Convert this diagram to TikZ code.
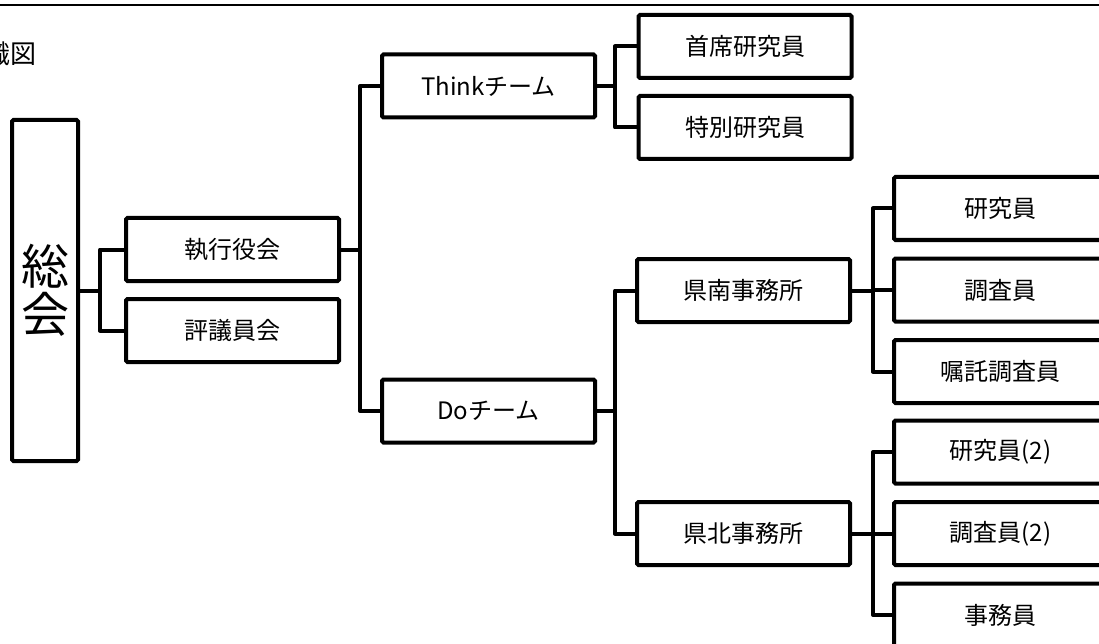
\documentclass[tikz,border=0pt]{standalone}
\usepackage{fontspec}
\newfontfamily\jp{Noto Sans CJK JP}
\begin{document}
\begin{tikzpicture}[x=1pt,y=-1pt,
  box/.style={draw, line width=4pt, rounded corners=1.5pt, minimum width=213pt, minimum height=63pt,
    inner sep=0pt, font=\jp\fontsize{24}{24}\selectfont},
  conn/.style={line width=4pt, line join=round}]
\useasboundingbox (0,0) rectangle (1099,644);
\begin{scope}
\clip (0,0) rectangle (1099,644);
\draw[line width=2pt] (0,4.7) -- (1099,4.7);
\node[anchor=east, inner sep=0pt, font=\jp\fontsize{26}{26}\selectfont] (title) at (36.5,53.5) {織図};
\node[box, minimum width=66pt, minimum height=341pt, align=center,
  font=\jp\fontsize{48}{48}\selectfont] (sokai) at (45,290.5) {総\\会};
\node[box] (exec) at (232.5,249.5) {執行役会};
\node[box] (hyogi) at (232.5,330.5) {評議員会};
\node[box] (think) at (488.5,86) {Thinkチーム};
\node[box] (do) at (488.5,411) {Doチーム};
\node[box] (shuseki) at (745,46.5) {首席研究員};
\node[box] (tokubetsu) at (745,127.5) {特別研究員};
\node[box] (kennan) at (743.5,290.5) {県南事務所};
\node[box] (kenpoku) at (743.5,533.5) {県北事務所};
\node[box] (r1) at (1000.5,208.5) {研究員};
\node[box] (r2) at (1000.5,290) {調査員};
\node[box] (r3) at (1000.5,371.5) {嘱託調査員};
\node[box] (r4) at (1000.5,452) {研究員(2)};
\node[box] (r5) at (1000.5,533.5) {調査員(2)};
\node[box] (r6) at (1000.5,615) {事務員};
\coordinate (busA) at (100,0);
\coordinate (busB) at (360,0);
\coordinate (busC) at (615,0);
\coordinate (busE) at (873,0);
% 総会 -> 執行役会 / 評議員会
\draw[conn] (sokai.east) -- (sokai.east -| busA);
\draw[conn] (exec.west) -- (exec.west -| busA) -- (hyogi.west -| busA) -- (hyogi.west);
% 執行役会 -> Think / Do
\draw[conn] (exec.east) -- (exec.east -| busB);
\draw[conn] (think.west) -- (think.west -| busB) -- (do.west -| busB) -- (do.west);
% Think -> 首席 / 特別
\draw[conn] (think.east) -- (think.east -| busC);
\draw[conn] (shuseki.west) -- (shuseki.west -| busC) -- (tokubetsu.west -| busC) -- (tokubetsu.west);
% Do -> 県南 / 県北
\draw[conn] (do.east) -- (do.east -| busC);
\draw[conn] (kennan.west) -- (kennan.west -| busC) -- (kenpoku.west -| busC) -- (kenpoku.west);
% 県南 -> staff
\draw[conn] (kennan.east) -- (kennan.east -| busE);
\draw[conn] (r1.west) -- (r1.west -| busE) -- (r3.west -| busE) -- (r3.west);
\draw[conn] (r2.west) -- (r2.west -| busE);
% 県北 -> staff
\draw[conn] (kenpoku.east) -- (kenpoku.east -| busE);
\draw[conn] (r4.west) -- (r4.west -| busE) -- (r6.west -| busE) -- (r6.west);
\draw[conn] (r5.west) -- (r5.west -| busE);
\end{scope}
\end{tikzpicture}
\end{document}
